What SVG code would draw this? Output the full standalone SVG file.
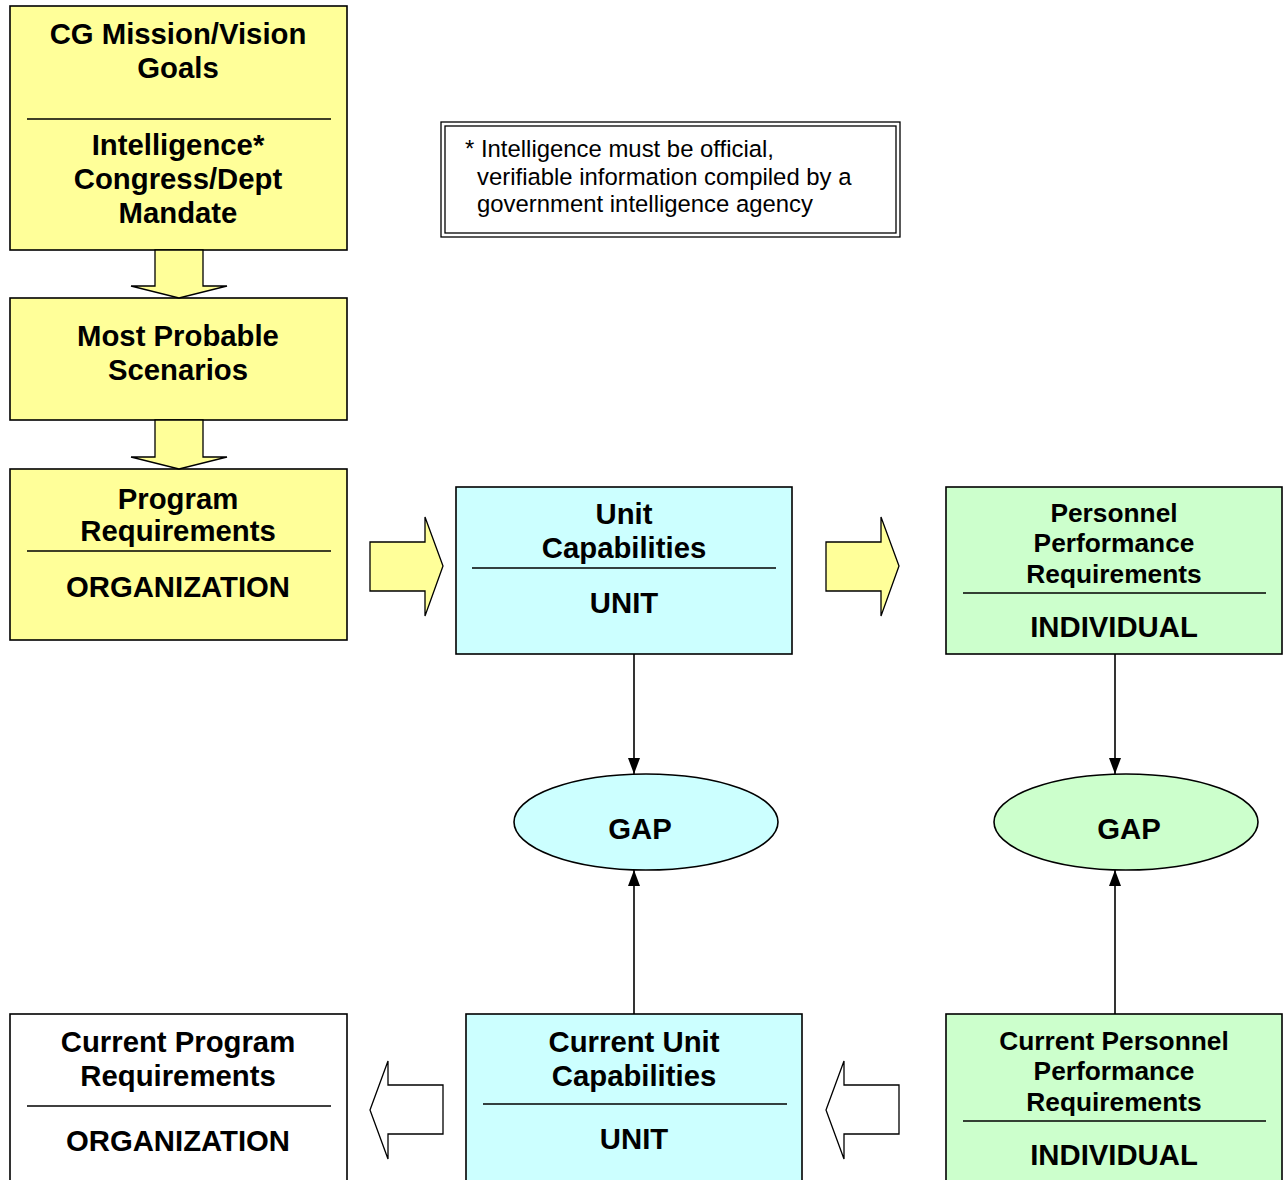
<svg xmlns="http://www.w3.org/2000/svg" width="1283" height="1180" viewBox="0 0 1283 1180">
<defs>
<style>
.box{stroke:#000;stroke-width:1.6}
.y{fill:#FFFF99}.c{fill:#CCFFFF}.g{fill:#CCFFCC}.w{fill:#FFFFFF}
.t{font-family:"Liberation Sans",Arial,sans-serif;font-weight:bold;font-size:29.3px;text-anchor:middle;fill:#000}
.s{font-size:26.3px}
.div{stroke:#000;stroke-width:1.6}
.conn{stroke:#000;stroke-width:1.6;fill:none}
.blk{stroke:#000;stroke-width:1.3}
.note{font-family:"Liberation Sans",Arial,sans-serif;font-size:23.9px;fill:#000}
</style>
<marker id="ah" viewBox="0 0 16 12" refX="16" refY="6" markerWidth="16" markerHeight="12" markerUnits="userSpaceOnUse" orient="auto">
<path d="M0,0 L16,6 L0,12 Z" fill="#000"/>
</marker>
</defs>

<g id="mission">
<rect class="box y" x="10" y="6" width="337" height="244"/>
<text class="t" x="178" y="44">CG Mission/Vision</text>
<text class="t" x="178" y="78">Goals</text>
<line class="div" x1="27" y1="119" x2="331" y2="119"/>
<text class="t" x="178" y="155">Intelligence*</text>
<text class="t" x="178" y="189">Congress/Dept</text>
<text class="t" x="178" y="223">Mandate</text>
</g>

<g id="note">
<rect x="441" y="122" width="459" height="115" fill="#fff" stroke="#000" stroke-width="1.3"/>
<rect x="445" y="126" width="451" height="107" fill="none" stroke="#000" stroke-width="1.3"/>
<text class="note" x="465" y="157">* Intelligence must be official,</text>
<text class="note" x="477" y="185">verifiable information compiled by a</text>
<text class="note" x="477" y="212">government intelligence agency</text>
</g>

<g id="scenarios">
<rect class="box y" x="10" y="298" width="337" height="122"/>
<text class="t" x="178" y="346">Most Probable</text>
<text class="t" x="178" y="380">Scenarios</text>
</g>

<g id="program">
<rect class="box y" x="10" y="469" width="337" height="171"/>
<text class="t" x="178" y="509">Program</text>
<text class="t" x="178" y="541">Requirements</text>
<line class="div" x1="27" y1="551" x2="331" y2="551"/>
<text class="t" x="178" y="597">ORGANIZATION</text>
</g>

<g id="unitcap">
<rect class="box c" x="456" y="487" width="336" height="167"/>
<text class="t" x="624" y="524">Unit</text>
<text class="t" x="624" y="558">Capabilities</text>
<line class="div" x1="472" y1="568" x2="776" y2="568"/>
<text class="t" x="624" y="613">UNIT</text>
</g>

<g id="perfreq">
<rect class="box g" x="946" y="487" width="336" height="167"/>
<text class="t s" x="1114" y="522">Personnel</text>
<text class="t s" x="1114" y="552">Performance</text>
<text class="t s" x="1114" y="583">Requirements</text>
<line class="div" x1="963" y1="593" x2="1266" y2="593"/>
<text class="t" x="1114" y="637">INDIVIDUAL</text>
</g>

<g id="gap1">
<ellipse class="box c" cx="646" cy="822" rx="132" ry="48"/>
<text class="t" x="640" y="839">GAP</text>
</g>

<g id="gap2">
<ellipse class="box g" cx="1126" cy="822" rx="132" ry="48"/>
<text class="t" x="1129" y="839">GAP</text>
</g>

<g id="curprog">
<rect class="box w" x="10" y="1014" width="337" height="180"/>
<text class="t" x="178" y="1052">Current Program</text>
<text class="t" x="178" y="1086">Requirements</text>
<line class="div" x1="27" y1="1106" x2="331" y2="1106"/>
<text class="t" x="178" y="1151">ORGANIZATION</text>
</g>

<g id="curunit">
<rect class="box c" x="466" y="1014" width="336" height="180"/>
<text class="t" x="634" y="1052">Current Unit</text>
<text class="t" x="634" y="1086">Capabilities</text>
<line class="div" x1="483" y1="1104" x2="787" y2="1104"/>
<text class="t" x="634" y="1149">UNIT</text>
</g>

<g id="curperf">
<rect class="box g" x="946" y="1014" width="336" height="180"/>
<text class="t s" x="1114" y="1050">Current Personnel</text>
<text class="t s" x="1114" y="1080">Performance</text>
<text class="t s" x="1114" y="1111">Requirements</text>
<line class="div" x1="963" y1="1121" x2="1266" y2="1121"/>
<text class="t" x="1114" y="1165">INDIVIDUAL</text>
</g>

<g id="connectors">
<path class="blk y" d="M155,250 V286 H131 L179,298 L227,286 H203 V250 Z"/>
<path class="blk y" d="M155,420 V457 H131 L179,469 L227,457 H203 V420 Z"/>
<path class="blk y" d="M370,542 H425 V517 L443,566 L425,616 V591 H370 Z"/>
<path class="blk y" d="M826,542 H881 V517 L899,566 L881,616 V591 H826 Z"/>
<path class="blk w" d="M443,1085 H388 V1061 L370,1110 L388,1159 V1134 H443 Z"/>
<path class="blk w" d="M899,1085 H844 V1061 L826,1110 L844,1159 V1134 H899 Z"/>
<line class="conn" x1="634" y1="654" x2="634" y2="774" marker-end="url(#ah)"/>
<line class="conn" x1="1115" y1="654" x2="1115" y2="774" marker-end="url(#ah)"/>
<line class="conn" x1="634" y1="1014" x2="634" y2="870" marker-end="url(#ah)"/>
<line class="conn" x1="1115" y1="1014" x2="1115" y2="870" marker-end="url(#ah)"/>
</g>
</svg>
